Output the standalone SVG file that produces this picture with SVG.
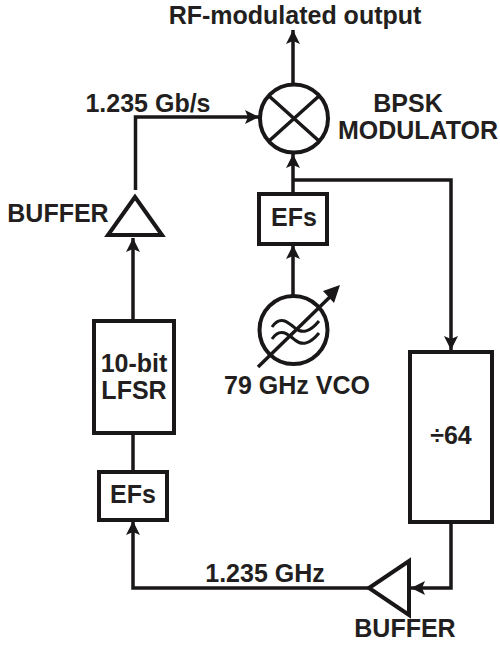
<svg xmlns="http://www.w3.org/2000/svg" width="500" height="648" viewBox="0 0 500 648">
<style>
.s{fill:none;stroke:#1a1718;stroke-width:3.5}
.b{fill:#fff;stroke:#1a1718;stroke-width:4}
.w{fill:none;stroke:#1a1718;stroke-width:3}
.t{font-family:"Liberation Sans",Arial,sans-serif;font-weight:700;font-size:25px;fill:#231f20;text-anchor:middle}
</style>
<defs><marker id="a" markerUnits="userSpaceOnUse" markerWidth="16" markerHeight="14" refX="14" refY="7" orient="auto"><path d="M0,0L14,7L0,14L3,7Z" fill="#1a1718"/></marker></defs>
<rect width="500" height="648" fill="#fff"/>
<g id="connectors">
<path class="s" d="M293,83V30" marker-end="url(#a)"/>
<path class="s" d="M135.500,190V117H259" marker-end="url(#a)"/>
<path class="s" d="M133,320V238" marker-end="url(#a)"/>
<path class="s" d="M133,472V408" marker-end="url(#a)"/>
<path class="s" d="M293,194V154" marker-end="url(#a)"/>
<path class="s" d="M293,180H451V350" marker-end="url(#a)"/>
<path class="s" d="M293,295V245" marker-end="url(#a)"/>
<path class="s" d="M451,522V588H411" marker-end="url(#a)"/>
<path class="s" d="M369,588H133V521" marker-end="url(#a)"/>
</g>
<g id="modulator"><circle class="b" cx="294" cy="118.500" r="34"/><path class="s" d="M269,96L319,141M319,96L269,141"/>
<text class="t" x="408" y="112">BPSK</text><text class="t" x="418" y="139">MODULATOR</text></g>
<g id="output-label"><text class="t" x="295" y="24">RF-modulated output</text></g>
<g id="rate-label"><text class="t" x="148" y="112">1.235 Gb/s</text></g>
<g id="buffer-top"><path class="b" d="M135,197L108,235H162Z"/><text class="t" x="58" y="222">BUFFER</text></g>
<g id="efs-top"><rect class="b" x="259" y="194" width="68" height="50"/><text class="t" x="294" y="226">EFs</text></g>
<g id="vco"><circle class="b" cx="293.500" cy="330" r="34"/>
<path class="w" d="M272,327C280,315 288,322 295,328C302,334 310,332 319,321M272,339C280,327 288,334 295,340C302,346 310,344 319,333"/>
<path class="s" d="M258,367L335,292"/><path d="M340,285L334,303L323,291Z" fill="#1a1718"/>
<text class="t" x="297" y="394">79 GHz VCO</text></g>
<g id="lfsr"><rect class="b" x="94" y="321" width="80" height="112"/><text class="t" x="134" y="372">10-bit</text><text class="t" x="134" y="399">LFSR</text></g>
<g id="efs-bottom"><rect class="b" x="99" y="472" width="68" height="48"/><text class="t" x="133" y="503">EFs</text></g>
<g id="divider"><rect class="b" x="410" y="352" width="82" height="170"/><text class="t" x="451" y="444">÷64</text></g>
<g id="buffer-bottom"><path class="b" d="M369,588L409,561V615Z"/><text class="t" x="405" y="637">BUFFER</text></g>
<g id="freq-label"><text class="t" x="265" y="582">1.235 GHz</text></g>
</svg>
